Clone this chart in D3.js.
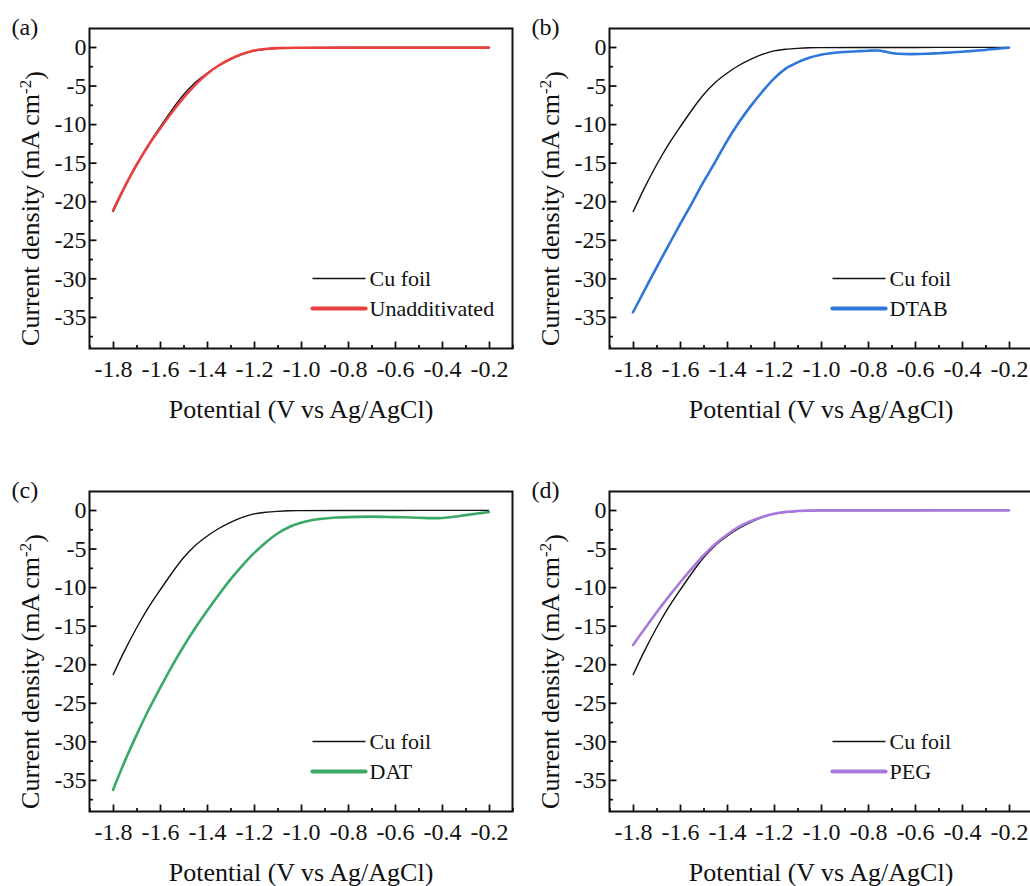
<!DOCTYPE html>
<html>
<head>
<meta charset="utf-8">
<script src="https://cdn.jsdelivr.net/npm/d3@7"></script>
<style>
  body { margin: 0; background: #fff; }
  svg text { font-family: "Liberation Serif", serif; fill: #111; }
</style>
</head>
<body>
<svg id="chart" width="1030" height="886"></svg>
<script>
// ticks
const xTickValues = [-1.8, -1.6, -1.4, -1.2, -1.0, -0.8, -0.6, -0.4, -0.2];
const xTickLabels = ["-1.8", "-1.6", "-1.4", "-1.2", "-1.0", "-0.8", "-0.6", "-0.4", "-0.2"];
const xMinorTicks = [-1.9, -1.7, -1.5, -1.3, -1.1, -0.9, -0.7, -0.5, -0.3, -0.1];
const yTickValues = [0, -5, -10, -15, -20, -25, -30, -35];
const yTickLabels = ["0", "-5", "-10", "-15", "-20", "-25", "-30", "-35"];
const yMinorTicks = [-2.5, -7.5, -12.5, -17.5, -22.5, -27.5, -32.5, -37.5];

// Cu foil reference curve (same in every panel)
const cuFoilV = [-1.80, -1.75, -1.70, -1.65, -1.60, -1.55, -1.50, -1.45, -1.40, -1.35, -1.30, -1.25, -1.20, -1.15, -1.10, -1.05, -1.00, -0.80, -0.50, -0.20];
const cuFoilJ = [-21.4, -18.2, -15.3, -12.7, -10.4, -8.2, -6.2, -4.6, -3.4, -2.4, -1.6, -0.95, -0.5, -0.3, -0.18, -0.1, -0.08, -0.07, -0.05, -0.05];

const unaddV = [-1.80, -1.75, -1.70, -1.65, -1.60, -1.55, -1.50, -1.45, -1.40, -1.35, -1.30, -1.25, -1.20, -1.15, -1.10, -1.00, -0.60, -0.20];
const unaddJ = [-21.2, -18.1, -15.3, -12.8, -10.6, -8.5, -6.6, -4.9, -3.5, -2.4, -1.55, -0.9, -0.45, -0.25, -0.15, -0.1, -0.08, -0.08];

const dtabV = [-1.80, -1.75, -1.70, -1.65, -1.60, -1.55, -1.50, -1.45, -1.40, -1.35, -1.30, -1.25, -1.20, -1.15, -1.10, -1.05, -1.00, -0.95, -0.90, -0.85, -0.80, -0.76, -0.73, -0.70, -0.67, -0.62, -0.55, -0.50, -0.45, -0.40, -0.35, -0.30, -0.25, -0.20];
const dtabJ = [-34.4, -31.5, -28.6, -25.8, -23.0, -20.3, -17.5, -14.9, -12.2, -9.8, -7.7, -5.8, -4.1, -2.8, -2.0, -1.4, -1.0, -0.78, -0.65, -0.56, -0.48, -0.46, -0.58, -0.78, -0.88, -0.92, -0.88, -0.8, -0.72, -0.62, -0.5, -0.38, -0.22, -0.1];

const datV = [-1.80, -1.75, -1.70, -1.65, -1.60, -1.55, -1.50, -1.45, -1.40, -1.35, -1.30, -1.25, -1.20, -1.15, -1.10, -1.05, -1.00, -0.95, -0.90, -0.85, -0.80, -0.70, -0.60, -0.50, -0.45, -0.40, -0.35, -0.30, -0.25, -0.20];
const datJ = [-36.3, -32.6, -29.2, -26.0, -23.1, -20.3, -17.7, -15.3, -13.1, -11.0, -9.0, -7.2, -5.6, -4.2, -3.05, -2.2, -1.65, -1.3, -1.1, -0.98, -0.92, -0.86, -0.92, -1.0, -1.05, -1.03, -0.88, -0.66, -0.45, -0.25];

const pegV = [-1.80, -1.75, -1.70, -1.65, -1.60, -1.55, -1.50, -1.45, -1.40, -1.35, -1.30, -1.25, -1.20, -1.15, -1.10, -1.00, -0.60, -0.20];
const pegJ = [-17.5, -15.4, -13.3, -11.3, -9.4, -7.6, -5.9, -4.4, -3.2, -2.2, -1.45, -0.9, -0.48, -0.24, -0.12, -0.05, -0.05, -0.05];

const panelTags = ["(a)", "(b)", "(c)", "(d)"];
const seriesNames = ["Unadditivated", "DTAB", "DAT", "PEG"];
const seriesColors = ["#e8403f", "#2e76d8", "#3aa968", "#a878dc"];
const seriesV = [unaddV, dtabV, datV, pegV];
const seriesJ = [unaddJ, dtabJ, datJ, pegJ];

const xTitle = "Potential (V vs Ag/AgCl)";

const width = 423, height = 320;
const origins = [[89.5, 28.5], [609.5, 28.5], [89.5, 491.5], [609.5, 491.5]];

const svg = d3.select("#chart");

const x = d3.scaleLinear().domain([-1.9, -0.1]).range([0, width]);
const y = d3.scaleLinear().domain([-39.1, 2.4]).range([height, 0]);

const line = d3.line()
    .x(d => x(d[0]))
    .y(d => y(d[1]))
    .curve(d3.curveCatmullRom.alpha(0.5));

const zip = (vs, js) => vs.map((v, i) => [v, js[i]]);

panelTags.forEach((tag, i) => {
    const g = svg.append("g").attr("transform", `translate(${origins[i][0]},${origins[i][1]})`);

    // minor ticks
    g.append("g")
        .attr("transform", `translate(0,${height})`)
        .call(d3.axisBottom(x).tickValues(xMinorTicks).tickSize(-3.5).tickFormat(""))
        .call(a => a.select(".domain").remove())
        .selectAll("line").attr("stroke", "#111").attr("stroke-width", 1.8);
    g.append("g")
        .call(d3.axisLeft(y).tickValues(yMinorTicks).tickSize(-3.5).tickFormat(""))
        .call(a => a.select(".domain").remove())
        .selectAll("line").attr("stroke", "#111").attr("stroke-width", 1.8);

    // major ticks + labels
    const xa = g.append("g")
        .attr("transform", `translate(0,${height})`)
        .call(d3.axisBottom(x).tickValues(xTickValues).tickSize(-7).tickPadding(11)
            .tickFormat((d, k) => xTickLabels[k]));
    xa.select(".domain").remove();
    xa.selectAll("line").attr("stroke", "#111").attr("stroke-width", 1.8);
    xa.selectAll("text").attr("font-size", 24).attr("font-family", "Liberation Serif").attr("fill", "#111");

    const ya = g.append("g")
        .call(d3.axisLeft(y).tickValues(yTickValues).tickSize(-7).tickPadding(3)
            .tickFormat((d, k) => yTickLabels[k]));
    ya.select(".domain").remove();
    ya.selectAll("line").attr("stroke", "#111").attr("stroke-width", 1.8);
    ya.selectAll("text").attr("font-size", 24).attr("font-family", "Liberation Serif").attr("fill", "#111");

    // curves
    g.append("path")
        .datum(zip(cuFoilV, cuFoilJ))
        .attr("d", line)
        .attr("fill", "none")
        .attr("stroke", "#111")
        .attr("stroke-width", 1.4);

    g.append("path")
        .datum(zip(seriesV[i], seriesJ[i]))
        .attr("d", line)
        .attr("fill", "none")
        .attr("stroke", seriesColors[i])
        .attr("stroke-width", 2.6)
        .attr("stroke-linecap", "round");

    // frame
    g.append("rect")
        .attr("width", width)
        .attr("height", height)
        .attr("fill", "none")
        .attr("stroke", "#111")
        .attr("stroke-width", 2);

    // legend
    const leg = g.append("g").attr("transform", "translate(223,250)");
    leg.append("line").attr("x1", 0).attr("x2", 53).attr("y1", 0).attr("y2", 0)
        .attr("stroke", "#111").attr("stroke-width", 1.6);
    leg.append("text").attr("x", 57).attr("y", 0).attr("dy", "0.33em")
        .attr("font-size", 22).text("Cu foil");
    leg.append("line").attr("x1", 0).attr("x2", 53).attr("y1", 30).attr("y2", 30)
        .attr("stroke", seriesColors[i]).attr("stroke-width", 4.2).attr("stroke-linecap", "round");
    leg.append("text").attr("x", 57).attr("y", 30).attr("dy", "0.33em")
        .attr("font-size", 22).text(seriesNames[i]);

    // axis titles
    g.append("text")
        .attr("x", width / 2)
        .attr("y", height + 69)
        .attr("text-anchor", "middle")
        .attr("font-size", 26)
        .text(xTitle);

    const yt = g.append("text")
        .attr("transform", `translate(-60,${180}) rotate(-90)`)
        .attr("text-anchor", "middle")
        .attr("dy", "0.35em")
        .attr("font-size", 26);
    yt.append("tspan").text("Current density (mA cm");
    yt.append("tspan").attr("dy", "-0.45em").attr("font-size", 17).text("-2");
    yt.append("tspan").attr("dy", "0.45em").text(")");

    // panel tag
    g.append("text")
        .attr("x", -78)
        .attr("y", 6)
        .attr("font-size", 24)
        .text(tag);
});
</script>
</body>
</html>
